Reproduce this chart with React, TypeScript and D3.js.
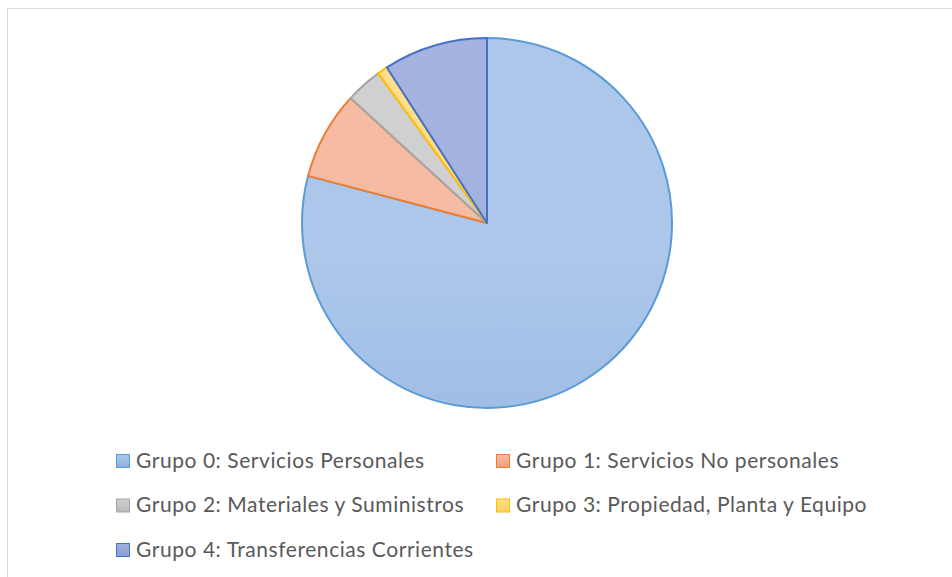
import React from "react";
import * as d3 from "d3";

const categories = [
  "Grupo 0: Servicios Personales",
  "Grupo 1: Servicios No personales",
  "Grupo 2: Materiales y Suministros",
  "Grupo 3: Propiedad, Planta y Equipo",
  "Grupo 4: Transferencias Corrientes",
];
const values = [79.1, 7.7, 3.2, 0.9, 9.1];
const fillTop = ["#adc7ea", "#f6bba3", "#d0d0d0", "#ffdd90", "#a3b2df"];
const fillBottom = ["#8cafe1", "#f19f7c", "#b9b9b9", "#ffcf62", "#899cd5"];
const strokes = ["#5b9bd5", "#ed7d31", "#a5a5a5", "#ffc000", "#4472c4"];

const W = 952;
const H = 577;
const cx = 487;
const cy = 223;
const R = 185;

export default function App() {
  const pie = d3
    .pie<number>()
    .sort(null)
    .value((d) => d)
    .startAngle(0)
    .endAngle(2 * Math.PI);
  const arcs = pie(values);
  const arc = d3.arc<d3.PieArcDatum<number>>().innerRadius(0).outerRadius(R);

  const legendPos = [
    { x: 116, y: 467.5 },
    { x: 496, y: 467.5 },
    { x: 116, y: 512 },
    { x: 496, y: 512 },
    { x: 116, y: 556.5 },
  ];

  return (
    <svg
      width={W}
      height={H}
      style={{ position: "absolute", left: 0, top: 0, background: "#fff" }}
    >
      <defs>
        {categories.map((c, i) => (
          <linearGradient
            key={c}
            id={`g${i}`}
            gradientUnits="userSpaceOnUse"
            x1={0}
            y1={cy - R}
            x2={0}
            y2={cy + R}
          >
            <stop offset="0" stopColor={fillTop[i]} />
            <stop offset="1" stopColor={fillBottom[i]} />
          </linearGradient>
        ))}
        {categories.map((c, i) => (
          <linearGradient key={c} id={`l${i}`} x1="0" y1="0" x2="0" y2="1">
            <stop offset="0" stopColor={fillTop[i]} />
            <stop offset="1" stopColor={fillBottom[i]} />
          </linearGradient>
        ))}
      </defs>
      <rect
        x={7.5}
        y={8.5}
        width={W + 20}
        height={H + 20}
        fill="#fff"
        stroke="#d9d9d9"
        strokeWidth={1}
      />
      <g transform={`translate(${cx},${cy})`}>
        {arcs.map((a, i) => (
          <path
            key={i}
            d={arc(a) || ""}
            fill={`url(#g${i})`}
            stroke={strokes[i]}
            strokeWidth={2}
            strokeLinejoin="round"
          />
        ))}
      </g>
      {categories.map((c, i) => {
        const p = legendPos[i];
        return (
          <g key={c}>
            <rect
              x={p.x + 0.5}
              y={p.y - 13}
              width={13}
              height={13}
              fill={`url(#l${i})`}
              stroke={strokes[i]}
              strokeWidth={1}
            />
            <text
              x={p.x + 20}
              y={p.y}
              fontFamily="Lato, 'Open Sans', sans-serif"
              fontSize={21}
              letterSpacing={0.55}
              fill="#595959"
            >
              {c}
            </text>
          </g>
        );
      })}
    </svg>
  );
}
